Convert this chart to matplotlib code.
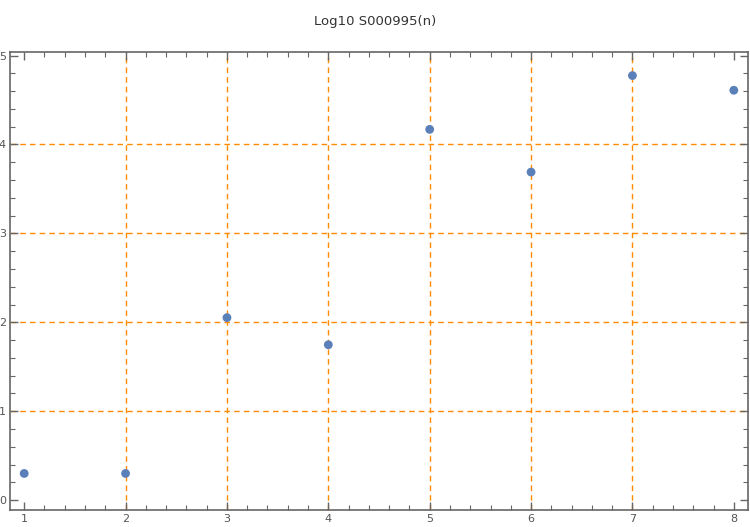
import matplotlib
matplotlib.use("Agg")
import matplotlib.pyplot as plt
from matplotlib.ticker import MultipleLocator

n_values = [1, 2, 3, 4, 5, 6, 7, 8]
log_values = [0.301, 0.301, 2.053, 1.748, 4.170, 3.690, 4.775, 4.610]
x_ticks = [1, 2, 3, 4, 5, 6, 7, 8]
y_ticks = [0, 1, 2, 3, 4, 5]
grid_x = [2, 3, 4, 5, 6, 7]
grid_y = [1, 2, 3, 4]
title = "Log10 S000995(n)"

fig = plt.figure(figsize=(7.5, 5.27), dpi=100)
ax = fig.add_axes([10/750, 17/527, 738/750, (510-52)/527])

orange = "#ff8c00"
for gx in grid_x:
    ax.axvline(gx, color=orange, lw=1.0, ls=(0, (4, 3)), zorder=1)
for gy in grid_y:
    ax.axhline(gy, color=orange, lw=1.0, ls=(0, (4, 3)), zorder=1)

ax.scatter(n_values, log_values, s=40, color="#5a7fb9", zorder=3, edgecolors="none")

ax.set_xlim(0.86, 8.14)
ax.set_ylim(-0.11, 5.04)
ax.set_xticks(x_ticks)
ax.set_yticks(y_ticks)
ax.xaxis.set_minor_locator(MultipleLocator(0.2))
ax.yaxis.set_minor_locator(MultipleLocator(0.2))
frame = "#666666"
for s in ax.spines.values():
    s.set_color(frame)
    s.set_linewidth(1.2)
ax.tick_params(which="both", direction="in", top=True, right=True, color=frame, labelcolor="#555555", labelsize=8)
ax.tick_params(which="major", length=6, width=1.0, pad=3)
ax.tick_params(which="minor", length=3.5, width=0.8)
fig.suptitle(title, y=1 - 22/527, fontsize=9.5, color="#333333", va="center")

fig.savefig("out.png", dpi=100)
